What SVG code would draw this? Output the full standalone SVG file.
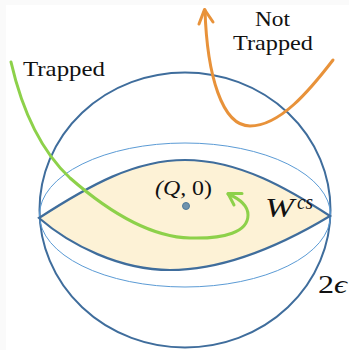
<svg xmlns="http://www.w3.org/2000/svg" width="349" height="350" viewBox="0 0 349 350">
<style>
.outer{fill:none;stroke:#3f6d9c;stroke-width:2}
.thin{fill:none;stroke:#5b9bd5;stroke-width:1}
.leaf{fill:#fdf2d6;stroke:#3f6d9c;stroke-width:2.2}
.green{fill:none;stroke:#8dd14a;stroke-width:3;stroke-linecap:round;stroke-linejoin:round}
.orange{fill:none;stroke:#e8923a;stroke-width:3;stroke-linecap:round;stroke-linejoin:round}
.lbl{font-family:'Liberation Serif','DejaVu Serif',serif;fill:#111}
.math{font-family:'Liberation Serif','DejaVu Serif',serif;font-style:italic;fill:#111}
</style>
<rect x="0" y="0" width="349" height="350" fill="#fafafa"/>
<rect x="6" y="5" width="343" height="345" fill="#ffffff"/>
<g id="ball">
<ellipse class="outer" cx="185" cy="210" rx="145.5" ry="137.5"/>
<ellipse class="thin" cx="185" cy="215" rx="145.5" ry="72"/>
</g>
<g id="wcs">
<path class="leaf" d="M39,218 C90,185 135,160 185,160 C240,160 290,190 330,216 C290,240 230,270 170,270 C120,270 70,245 39,218 Z"/>
<text class="math" x="265" y="217" font-size="27" textLength="29" lengthAdjust="spacingAndGlyphs">W</text>
<text class="math" x="297" y="209" font-size="22" textLength="16" lengthAdjust="spacingAndGlyphs">cs</text>
</g>
<g id="point">
<circle cx="186" cy="206" r="3.5" fill="#6f93ad" stroke="#4f7a99" stroke-width="1"/>
<text class="math" x="155" y="195" font-size="22" textLength="57" lengthAdjust="spacingAndGlyphs">(Q,<tspan font-style="normal"> 0)</tspan></text>
</g>
<g id="label-2eps">
<text class="math" x="318" y="293" font-size="25" textLength="29" lengthAdjust="spacingAndGlyphs"><tspan font-style="normal">2</tspan>ϵ</text>
</g>
<g id="connectors">
<path class="green" d="M11,62 C22,110 40,150 70,178 C110,213 150,237 190,238 C225,239 248,232 248,215 C248,205 240,199 228,194"/>
<path class="green" d="M242,193.5 L228,193.5 L234,205"/>
<path class="orange" d="M205,10 C207,75 222,126 250,126 C280,126 310,90 333,60"/>
<path class="orange" d="M199,24 L204.5,9.5 L213,22"/>
</g>
<g id="label-trapped">
<text class="lbl" x="23" y="76" font-size="21" textLength="82" lengthAdjust="spacingAndGlyphs">Trapped</text>
</g>
<g id="label-not-trapped">
<text class="lbl" x="255" y="26" font-size="21" textLength="35" lengthAdjust="spacingAndGlyphs">Not</text>
<text class="lbl" x="233" y="50" font-size="21" textLength="80" lengthAdjust="spacingAndGlyphs">Trapped</text>
</g>
</svg>
